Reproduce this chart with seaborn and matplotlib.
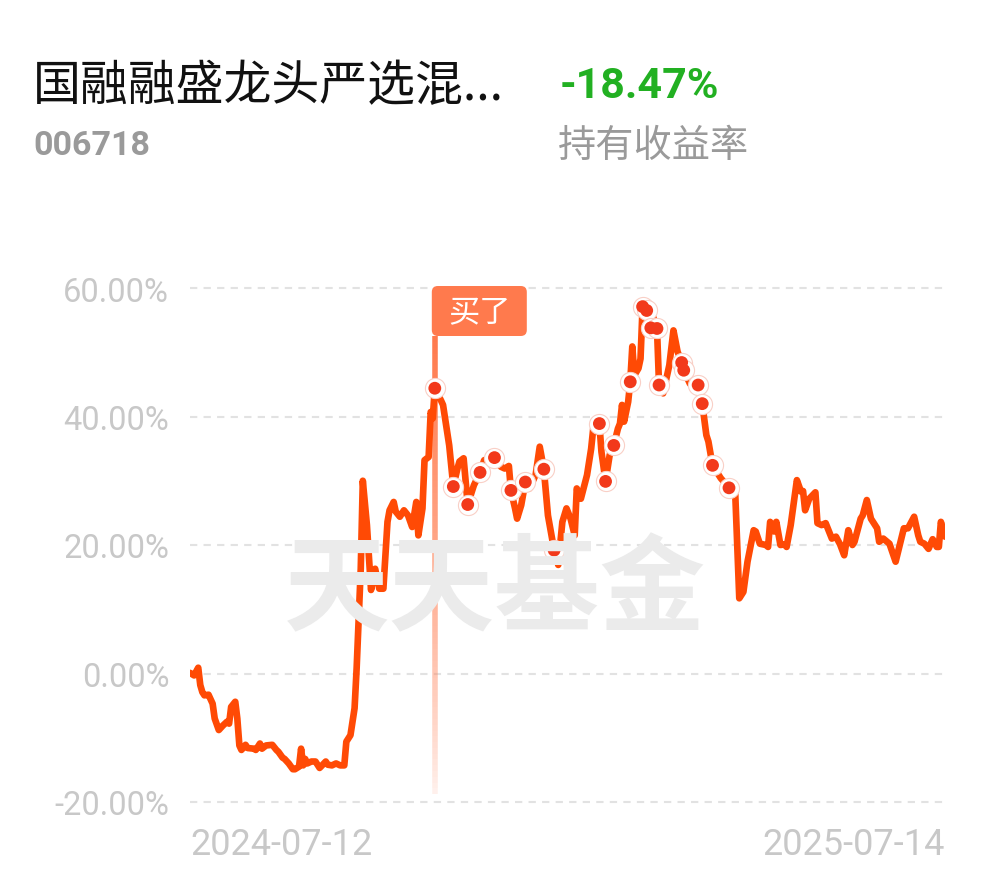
import numpy as np
import pandas as pd
import seaborn as sns
import matplotlib.pyplot as plt
import matplotlib.dates as mdates
from matplotlib.collections import LineCollection
from matplotlib.patches import FancyBboxPatch
from matplotlib.transforms import IdentityTransform

START = "2024-07-12"
END = "2025-07-14"

fund_name = "国融融盛龙头严选混..."
fund_code = "006718"
hold_return = "-18.47%"
hold_label = "持有收益率"
buy_label = "买了"
watermark = "天天基金"

# days since START, holding return in %
day_offsets = [
    0, 2, 4, 5, 6, 7, 9, 11, 12, 14, 16, 18, 19, 20, 22, 23, 24, 25, 27, 28,
    31, 32, 34, 35, 37, 40, 42, 43, 45, 46, 48, 50, 51, 53, 54, 55, 56, 57, 59, 61,
    63, 66, 67, 69, 71, 73, 75, 76, 78, 80, 81, 83, 84, 86, 88, 90, 92, 94, 96, 97,
    99, 100, 102, 104, 106, 108, 110, 111, 113, 114, 116, 117, 118, 119, 122, 123, 126, 128, 130, 131,
    133, 135, 138, 141, 143, 148, 151, 153, 155, 156, 158, 159, 161, 163, 165, 168, 170, 172, 174, 177,
    179, 181, 183, 185, 187, 188, 190, 193, 195, 196, 198, 199, 200, 202, 204, 206, 208, 209, 210, 211,
    213, 214, 215, 216, 218, 219, 220, 222, 224, 225, 227, 228, 230, 233, 235, 237, 239, 240, 243, 245,
    247, 249, 251, 252, 254, 258, 262, 265, 267, 269, 271, 274, 275, 277, 280, 281, 282, 284, 285, 287,
    289, 290, 292, 295, 297, 298, 299, 301, 304, 305, 307, 309, 312, 314, 316, 318, 320, 322, 323, 326,
    327, 329, 331, 332, 334, 335, 337, 340, 343, 345, 347, 349, 352, 354, 355, 357, 359, 361, 363, 364,
    365, 367,
]
returns = [
    0.1, -0.3, 0.9, -1.8, -2.9, -3.4, -3.3, -4.7, -7.0, -8.8, -8.1, -7.5, -7.8, -5.2, -4.4, -7.0, -11.2, -11.9, -11.1, -11.6,
    -11.7, -11.9, -10.9, -11.7, -11.2, -11.1, -11.9, -12.2, -13.1, -13.3, -14.0, -14.9, -14.9, -14.5, -11.7, -14.3, -13.3, -14.0, -13.7, -13.7,
    -14.7, -13.7, -14.2, -14.3, -14.0, -14.3, -14.3, -10.6, -9.6, -5.4, 0.8, 16.3, 30.0, 23.1, 13.0, 16.3, 13.2, 13.2, 23.6, 25.4,
    26.7, 25.2, 24.4, 25.4, 24.6, 22.8, 26.7, 21.5, 25.7, 33.2, 33.7, 40.7, 39.7, 44.4, 42.5, 41.8, 35.5, 29.1, 31.9, 33.0,
    33.5, 26.3, 29.3, 31.3, 33.2, 33.6, 32.2, 31.9, 32.3, 28.5, 25.7, 24.1, 26.2, 29.8, 28.8, 30.9, 35.3, 31.8, 24.6, 19.2,
    16.9, 23.6, 25.7, 24.1, 21.5, 28.8, 27.2, 30.9, 35.0, 38.1, 37.6, 38.9, 34.5, 29.9, 34.0, 35.5, 38.1, 38.9, 41.8, 39.2,
    42.3, 45.4, 50.9, 46.4, 47.5, 49.0, 57.1, 56.5, 53.8, 55.6, 53.7, 44.9, 43.6, 48.0, 53.4, 50.1, 48.4, 47.2, 45.1, 44.9,
    44.9, 42.0, 37.1, 36.1, 32.4, 30.4, 28.9, 28.3, 11.7, 12.7, 17.4, 22.3, 22.1, 20.2, 20.0, 19.7, 23.6, 22.1, 23.6, 20.0,
    20.1, 19.7, 23.1, 30.1, 28.3, 28.4, 25.4, 27.2, 28.2, 23.4, 23.1, 23.4, 21.0, 21.3, 20.1, 18.4, 22.3, 20.0, 20.5, 24.1,
    24.6, 27.0, 24.1, 23.6, 22.6, 20.5, 21.0, 20.2, 17.4, 20.0, 22.6, 22.6, 24.4, 21.5, 20.5, 20.2, 19.4, 20.9, 19.7, 19.7,
    23.6, 21.3,
]

trade_days = [119, 128, 135, 141, 148, 156, 163, 172, 177, 199, 202, 206,
              214, 220, 222, 224, 227, 228, 239, 240, 247, 249, 254, 262]
buy_day = 119

y_ticks = [-20, 0, 20, 40, 60]

LINE = "#ff4a05"
DOT = "#f2391b"
BUY = "#ff7a4d"
GRID = "#e2e2e2"
AXIS_TXT = "#c8c8c8"

start = pd.Timestamp(START)
end = pd.Timestamp(END)
df = pd.DataFrame({
    "date": start + pd.to_timedelta(day_offsets, unit="D"),
    "ret": returns,
})
trades = pd.DataFrame({
    "date": start + pd.to_timedelta(trade_days, unit="D"),
    "ret": np.interp(trade_days, day_offsets, returns),
})

sns.set_theme(style="white")
plt.rcParams["font.family"] = ["Roboto", "Noto Sans CJK SC", "DejaVu Sans"]

fig = plt.figure(figsize=(9.9, 8.78), dpi=100)
ax = fig.add_axes([190 / 990, 1 - 803 / 878, 755 / 990, 514 / 878])
ax.set_facecolor("none")

# watermark
fig.text(0.5, 1 - 592 / 878, watermark, ha="center", va="center", fontsize=76,
         fontweight="bold", color="#ebebeb", family="Noto Sans CJK SC", zorder=0)

for t in y_ticks:
    ax.axhline(t, color=GRID, lw=1.5, ls=(0, (3.5, 3)), clip_on=False, zorder=0)

ax.set_xlim(start, end)
ax.set_ylim(-20, 60)

# buy marker: fading vertical line
bx = mdates.date2num(start + pd.Timedelta(days=buy_day))
ys = np.linspace(52.5, -18.8, 80)
segs = [[(bx, ys[i]), (bx, ys[i + 1])] for i in range(len(ys) - 1)]
alphas = np.linspace(1.0, 0.04, len(segs)) ** 0.7
cols = [(1.0, 0.48, 0.30, a) for a in alphas]
ax.add_collection(LineCollection(segs, colors=cols, linewidths=4.0, zorder=2,
                                 capstyle="butt"))

sns.lineplot(data=df, x="date", y="ret", color=LINE, linewidth=4.8, ax=ax,
             legend=False, zorder=3, solid_joinstyle="round")
sns.scatterplot(data=trades, x="date", y="ret", s=210, color="white",
                edgecolor="#f9cfc6", linewidth=0.8, ax=ax, zorder=4, legend=False)
sns.scatterplot(data=trades, x="date", y="ret", s=85, color=DOT,
                edgecolor="none", ax=ax, zorder=5, legend=False)

ax.set_yticks(y_ticks)
ax.set_yticklabels([f"{v:.2f}%" for v in y_ticks])
ax.set_xticks([mdates.date2num(start), mdates.date2num(end)])
ax.set_xticklabels([START, END])
xl = ax.get_xticklabels()
xl[0].set_ha("left")
xl[1].set_ha("right")
ax.tick_params(axis="y", length=0, pad=15, labelsize=23.5, labelcolor=AXIS_TXT)
ax.tick_params(axis="x", length=0, pad=17, labelsize=26, labelcolor=AXIS_TXT)
ax.set_xlabel("")
ax.set_ylabel("")
sns.despine(ax=ax, left=True, bottom=True)

# "买了" tag, anchored at buy date in pixel space
fig.canvas.draw()
px, py = ax.transData.transform((bx, 60))
box = FancyBboxPatch((px - 3, py - 48), 95, 50,
                     boxstyle="round,pad=0,rounding_size=6",
                     transform=IdentityTransform(), fc=BUY, ec="none", zorder=6)
fig.patches.append(box)
fig.text(px - 3 + 47.5, py - 24, buy_label, transform=IdentityTransform(),
         ha="center", va="center", fontsize=22.5, color="white",
         family="Noto Sans CJK SC", zorder=7)

# header
fig.text(33 / 990, 1 - 86 / 878, fund_name, ha="left", va="center", fontsize=34.5,
         color="#111111", family=["Noto Sans CJK SC", "DejaVu Sans"])
fig.text(33 / 990, 1 - 146 / 878, fund_code, ha="left", va="center", fontsize=24.5,
         fontweight="bold", color="#9a9a9a", family="Roboto")
fig.text(560 / 990, 1 - 87 / 878, hold_return, ha="left", va="center", fontsize=31,
         fontweight="bold", color="#22b022", family="Roboto")
fig.text(558 / 990, 1 - 147 / 878, hold_label, ha="left", va="center", fontsize=27.5,
         color="#9a9a9a", family="Noto Sans CJK SC")

fig.savefig("out.png", dpi=100)
